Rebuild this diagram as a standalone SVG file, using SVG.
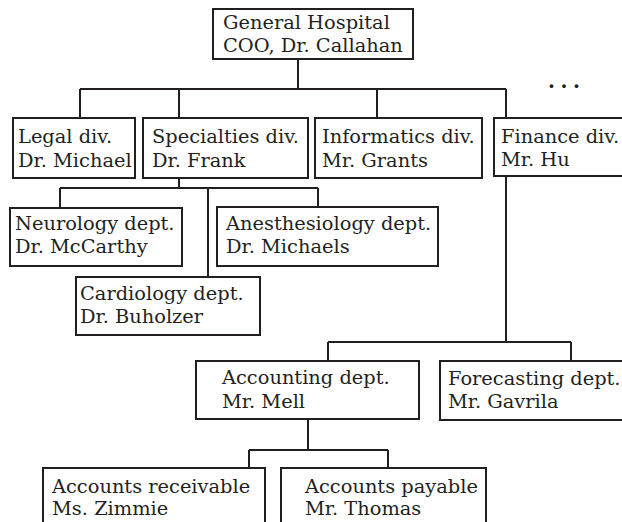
<svg xmlns="http://www.w3.org/2000/svg" width="622" height="522" viewBox="0 0 622 522">
  <style>
    .box { fill: #ffffff; stroke: #231f20; stroke-width: 2; }
    .wire { fill: none; stroke: #231f20; stroke-width: 2; }
    .lbl { font-family: "DejaVu Serif", "Liberation Serif", serif; font-size: 19.4px; fill: #231f20; }
    .more { font-family: "DejaVu Serif", "Liberation Serif", serif; font-size: 20px; font-weight: bold; fill: #231f20; }
  </style>
  <rect width="622" height="522" fill="#ffffff"/>

  <!-- connectors -->
  <g id="connectors" class="wire">
    <path d="M298 59 V89 M80 89 H506 M80 89 V118 M179 89 V118 M377 89 V118 M506 89 V118"/>
    <path d="M179 178 V188 M60 188 H318 M60 188 V208 M318 188 V207 M208 188 V277"/>
    <path d="M506 176 V342 M328 342 H571 M328 342 V361 M571 342 V361"/>
    <path d="M308 419 V450 M249 450 H388 M249 450 V468 M388 450 V468"/>
  </g>

  <!-- further divisions continue to the right -->
  <text class="more" x="548" y="88" letter-spacing="5.5">...</text>

  <g id="hospital">
    <rect class="box" x="213" y="9" width="200" height="50"/>
    <text class="lbl" x="223" y="29">General Hospital</text>
    <text class="lbl" x="223" y="52">COO, Dr. Callahan</text>
  </g>

  <g id="legal">
    <rect class="box" x="13" y="118" width="122" height="60"/>
    <text class="lbl" x="18" y="143">Legal div.</text>
    <text class="lbl" x="18" y="167">Dr. Michael</text>
  </g>

  <g id="specialties">
    <rect class="box" x="143" y="118" width="165" height="60"/>
    <text class="lbl" x="152" y="143">Specialties div.</text>
    <text class="lbl" x="152" y="167">Dr. Frank</text>
  </g>

  <g id="informatics">
    <rect class="box" x="315" y="118" width="167" height="60"/>
    <text class="lbl" x="322" y="143">Informatics div.</text>
    <text class="lbl" x="322" y="167">Mr. Grants</text>
  </g>

  <g id="finance">
    <rect class="box" x="494" y="118" width="140" height="58"/>
    <text class="lbl" x="501" y="143">Finance div.</text>
    <text class="lbl" x="501" y="166">Mr. Hu</text>
  </g>

  <g id="neurology">
    <rect class="box" x="10" y="208" width="172" height="58"/>
    <text class="lbl" x="15" y="230">Neurology dept.</text>
    <text class="lbl" x="15" y="253">Dr. McCarthy</text>
  </g>

  <g id="anesthesiology">
    <rect class="box" x="217" y="207" width="221" height="59"/>
    <text class="lbl" x="226" y="230">Anesthesiology dept.</text>
    <text class="lbl" x="226" y="253">Dr. Michaels</text>
  </g>

  <g id="cardiology">
    <rect class="box" x="76" y="277" width="184" height="58"/>
    <text class="lbl" x="80" y="300">Cardiology dept.</text>
    <text class="lbl" x="80" y="323">Dr. Buholzer</text>
  </g>

  <g id="accounting">
    <rect class="box" x="196" y="361" width="223" height="58"/>
    <text class="lbl" x="222" y="384">Accounting dept.</text>
    <text class="lbl" x="222" y="408">Mr. Mell</text>
  </g>

  <g id="forecasting">
    <rect class="box" x="440" y="361" width="194" height="59"/>
    <text class="lbl" x="448" y="385">Forecasting dept.</text>
    <text class="lbl" x="448" y="408">Mr. Gavrila</text>
  </g>

  <g id="receivable">
    <rect class="box" x="43" y="468" width="222" height="70"/>
    <text class="lbl" x="52" y="493">Accounts receivable</text>
    <text class="lbl" x="52" y="515">Ms. Zimmie</text>
  </g>

  <g id="payable">
    <rect class="box" x="281" y="468" width="205" height="70"/>
    <text class="lbl" x="305" y="493">Accounts payable</text>
    <text class="lbl" x="305" y="515">Mr. Thomas</text>
  </g>
</svg>
